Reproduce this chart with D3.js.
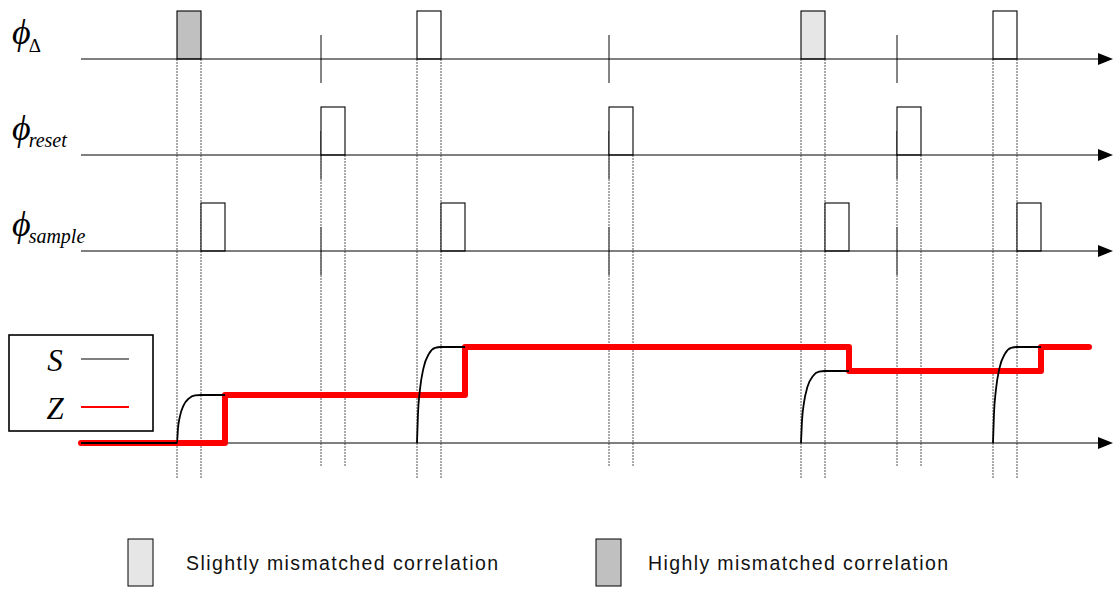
<!DOCTYPE html>
<html>
<head>
<meta charset="utf-8">
<script src="https://cdn.jsdelivr.net/npm/d3@7/dist/d3.min.js"></script>
<style>
  html, body { margin: 0; padding: 0; background: #fff; }
  svg { display: block; }
</style>
</head>
<body>
<svg id="chart" width="1115" height="591"></svg>
<script>
// ---------------- data ----------------
const rowNames = ["delta", "reset", "sample"];
const rowSubs = ["Δ", "reset", "sample"];
const deltaStarts = [4, 14, 30, 38];
const deltaKinds = ["high", "none", "slight", "none"];
const resetStarts = [10, 22, 34];
const sampleStarts = [5, 15, 31, 39];
const pulseLen = 1;
const sLevels = [1, 2, 1.5, 2];
const zTimes = [0, 6, 16, 32, 40, 42];
const zValues = [0, 1, 2, 1.5, 2, 2];
// normalised charging shape (time fraction, level fraction)
const riseT = [0, 0.04, 0.12, 0.27, 0.5, 0.75, 1];
const riseV = [0, 0.30, 0.55, 0.78, 0.93, 0.99, 1];
const legendNames = ["S", "Z"];
const legendColors = ["#000", "#ff0000"];
const kindLabels = ["Slightly mismatched correlation", "Highly mismatched correlation"];
const kindKeys = ["slight", "high"];
const kindFill = { slight: "#e6e6e6", high: "#c0c0c0", none: "#fff" };

// ---------------- scales ----------------
const svg = d3.select("#chart");
const x = d3.scaleLinear().domain([0, 43]).range([81, 1113]);
const yRow = d3.scalePoint().domain(rowNames).range([59, 251]);
const ySig = d3.scaleLinear().domain([0, 2]).range([443, 347]);
const pulseH = 48;

// dotted guide lines
const guides = [];
deltaStarts.forEach(t => { guides.push({ t, y0: yRow("delta"), y1: 478 }); guides.push({ t: t + pulseLen, y0: yRow("delta"), y1: 478 }); });
resetStarts.forEach(t => { guides.push({ t, y0: yRow("reset"), y1: 467 }); guides.push({ t: t + pulseLen, y0: yRow("reset"), y1: 467 }); });
svg.append("g").selectAll("line").data(guides).join("line")
  .attr("x1", d => x(d.t)).attr("x2", d => x(d.t))
  .attr("y1", d => d.y0).attr("y2", d => d.y1)
  .attr("stroke", "#555").attr("stroke-width", 1).attr("stroke-dasharray", "2,1");

// ticks at reset times in each row
const ticks = [];
rowNames.forEach(r => resetStarts.forEach(t => ticks.push({ r, t })));
svg.append("g").selectAll("line").data(ticks).join("line")
  .attr("x1", d => x(d.t)).attr("x2", d => x(d.t))
  .attr("y1", d => yRow(d.r) - 24).attr("y2", d => yRow(d.r) + 24)
  .attr("stroke", "#666").attr("stroke-width", 1.6);

// pulses
const pulses = [];
deltaStarts.forEach((t, i) => pulses.push({ r: "delta", t, kind: deltaKinds[i] }));
resetStarts.forEach(t => pulses.push({ r: "reset", t, kind: "none" }));
sampleStarts.forEach(t => pulses.push({ r: "sample", t, kind: "none" }));
svg.append("g").selectAll("rect").data(pulses).join("rect")
  .attr("x", d => x(d.t)).attr("width", d => x(d.t + pulseLen) - x(d.t))
  .attr("y", d => yRow(d.r) - pulseH).attr("height", pulseH)
  .attr("fill", d => kindFill[d.kind]).attr("stroke", "#000").attr("stroke-width", 1.1);

// axes with arrows
const axisYs = rowNames.map(r => yRow(r)).concat([ySig(0)]);
const axG = svg.append("g");
axG.selectAll("line").data(axisYs).join("line")
  .attr("x1", x(0)).attr("x2", x(43) - 8).attr("y1", d => d).attr("y2", d => d)
  .attr("stroke", "#000").attr("stroke-width", 1.2);
axG.selectAll("path").data(axisYs).join("path")
  .attr("d", d => `M${x(43)},${d} L${x(43) - 15},${d - 6} L${x(43) - 15},${d + 6} Z`)
  .attr("fill", "#000");

// Z (red step line)
const zPts = zTimes.map((t, i) => [x(t), ySig(zValues[i])]);
svg.append("path")
  .attr("d", d3.line().curve(d3.curveStepAfter)(zPts))
  .attr("fill", "none").attr("stroke", "#ff0000").attr("stroke-width", 6)
  .attr("stroke-linecap", "round").attr("stroke-linejoin", "round");

// S (black charging curves)
const sLine = d3.line().curve(d3.curveMonotoneX);
deltaStarts.forEach((t0, i) => {
  const pts = [];
  if (i === 0) pts.push([x(0), ySig(0)]);
  riseT.forEach((f, k) => pts.push([x(t0 + f * pulseLen), ySig(sLevels[i] * riseV[k])]));
  pts.push([x(t0 + 2 * pulseLen), ySig(sLevels[i])]);
  svg.append("path").attr("d", sLine(pts))
    .attr("fill", "none").attr("stroke", "#000").attr("stroke-width", 1.8);
});

// row labels (phi with subscripts)
const lab = svg.append("g");
rowNames.forEach((r, i) => {
  const by = yRow(r) - 15;
  const t = lab.append("text").attr("x", 12).attr("y", by)
    .attr("font-family", "'Liberation Serif', 'Times New Roman', serif")
    .attr("font-style", "italic").attr("font-size", 36);
  t.append("tspan").text("ϕ");
  t.append("tspan").attr("dy", i === 0 ? 8 : 7).attr("dx", -2)
    .attr("font-size", i === 0 ? 19 : 20)
    .attr("font-style", i === 0 ? "normal" : "italic")
    .text(rowSubs[i]);
});

// S / Z legend box
const lg = svg.append("g");
lg.append("rect").attr("x", 9).attr("y", 335).attr("width", 144).attr("height", 96)
  .attr("fill", "#fff").attr("stroke", "#000").attr("stroke-width", 1.6);
legendNames.forEach((n, i) => {
  const yy = 359 + i * 48;
  lg.append("text").attr("x", 55).attr("y", yy + 12).attr("text-anchor", "middle")
    .attr("font-family", "'Liberation Serif', 'Times New Roman', serif")
    .attr("font-style", "italic").attr("font-size", 31).text(n);
  lg.append("line").attr("x1", 81).attr("x2", 129).attr("y1", yy).attr("y2", yy)
    .attr("stroke", legendColors[i]).attr("stroke-width", i === 0 ? 1.2 : 2);
});

// bottom legend
const kx = [128, 596];
const tx = [186, 648];
const tw = [312, 300];
kindKeys.forEach((k, i) => {
  svg.append("rect").attr("x", kx[i]).attr("y", 539).attr("width", 25).attr("height", 47)
    .attr("fill", kindFill[k]).attr("stroke", "#000").attr("stroke-width", 1);
  svg.append("text").attr("x", tx[i]).attr("y", 570)
    .attr("font-family", "'Liberation Sans', Arial, sans-serif").attr("font-size", 19.5)
    .attr("textLength", tw[i]).attr("lengthAdjust", "spacing")
    .attr("fill", "#111").text(kindLabels[i]);
});
</script>
</body>
</html>
